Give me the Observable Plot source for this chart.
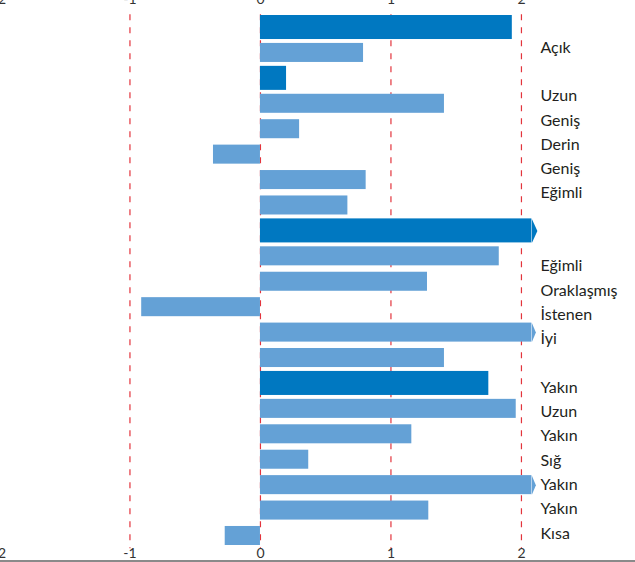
<!DOCTYPE html>
<html>
<head>
<meta charset="utf-8">
<script src="https://cdn.jsdelivr.net/npm/d3@7"></script>
<script src="https://cdn.jsdelivr.net/npm/@observablehq/plot@0.6"></script>
<style>
  html, body { margin: 0; padding: 0; background: #fff; }
  #wrap { position: relative; width: 635px; height: 562px; overflow: hidden; }
  #wrap > * { position: absolute; left: 0; top: 0; }
  #baseline { position: absolute; left: 0; top: 560px; width: 635px; height: 2px; background: #8a8a8a; }
</style>
</head>
<body>
<div id="wrap"></div>
<script>
// Data (rows from top to bottom)
const rows = d3.range(21);
const values = [1.93, 0.79, 0.20, 1.41, 0.30, -0.36, 0.81, 0.67, 2.40, 1.83, 1.28, -0.91, 2.40, 1.41, 1.75, 1.96, 1.16, 0.37, 2.40, 1.29, -0.27];
const highlighted = [true, false, true, false, false, false, false, false, true, false, false, false, false, false, true, false, false, false, false, false, false];
const labels = ["Açık", "", "Uzun", "Geniş", "Derin", "Geniş", "Eğimli", "", "", "Eğimli", "Oraklaşmış", "İstenen", "İyi", "", "Yakın", "Uzun", "Yakın", "Sığ", "Yakın", "Yakın", "Kısa"];
const gridTicks = [-1, 0, 1, 2];
const axisTicks = [-2, -1, 0, 1, 2];

const darkColor = "#0078c1";
const lightColor = "#64a1d6";
const xMax = 2.08; // visible end of the axis; longer bars get an arrow tip

const data = rows.map(i => ({
  row: i,
  value: values[i],
  shown: Math.min(values[i], xMax),
  clipped: values[i] > xMax,
  dark: highlighted[i],
  label: labels[i]
}));

function arrowSymbol(h, w) {
  return {
    draw(ctx) {
      ctx.moveTo(0, -h / 2);
      ctx.lineTo(w, 0);
      ctx.lineTo(0, h / 2);
      ctx.closePath();
    }
  };
}

const fmt = d => d < 0 ? "-" + Math.abs(d) : String(d);
const font = "Lato, 'Open Sans', sans-serif";

const chart = Plot.plot({
  width: 635,
  height: 562,
  marginLeft: 0,
  marginRight: 0,
  marginTop: 14.3,
  marginBottom: 13.8,
  style: { fontFamily: font, fontSize: "14px", color: "#333", background: "transparent" },
  x: { domain: [-1.992, 2.874], range: [0, 635], label: null },
  y: { type: "band", domain: rows, padding: 0, round: false, axis: null },
  marks: [
    Plot.ruleX(gridTicks, { stroke: "#e3343c", strokeWidth: 1.2, strokeDasharray: "6,7" }),
    Plot.barX(data.filter(d => !d.dark), { x1: 0, x2: "shown", y: "row", fill: lightColor, insetTop: 3.2, insetBottom: 3.2 }),
    Plot.barX(data.filter(d => d.dark), { x1: 0, x2: "shown", y: "row", fill: darkColor, insetTop: 0.7, insetBottom: 0.7 }),
    Plot.dot(data.filter(d => d.clipped && !d.dark), { x: "shown", y: "row", fill: lightColor, stroke: null, symbol: arrowSymbol(19, 4) }),
    Plot.dot(data.filter(d => d.clipped && d.dark), { x: "shown", y: "row", fill: darkColor, stroke: null, symbol: arrowSymbol(24, 5.5) }),
    Plot.axisX({ anchor: "top", ticks: axisTicks, tickSize: 0, tickPadding: 11, tickFormat: fmt, label: null }),
    Plot.axisX({ anchor: "bottom", ticks: axisTicks, tickSize: 0, tickPadding: -1, tickFormat: fmt, label: null })
  ]
});

const labelPlot = Plot.plot({
  width: 635,
  height: 562,
  marginLeft: 540,
  marginRight: 0,
  marginTop: 47,
  marginBottom: 29,
  style: { fontFamily: font, background: "transparent" },
  y: { type: "point", domain: rows, padding: 0, round: false, axis: null },
  marks: [
    Plot.text(data.filter(d => d.label), { y: "row", text: "label", frameAnchor: "left", textAnchor: "start", fontSize: 16, fill: "#231f20" })
  ]
});

const wrap = document.getElementById("wrap");
wrap.appendChild(chart);
wrap.appendChild(labelPlot);
const base = document.createElement("div");
base.id = "baseline";
wrap.appendChild(base);
</script>
</body>
</html>
